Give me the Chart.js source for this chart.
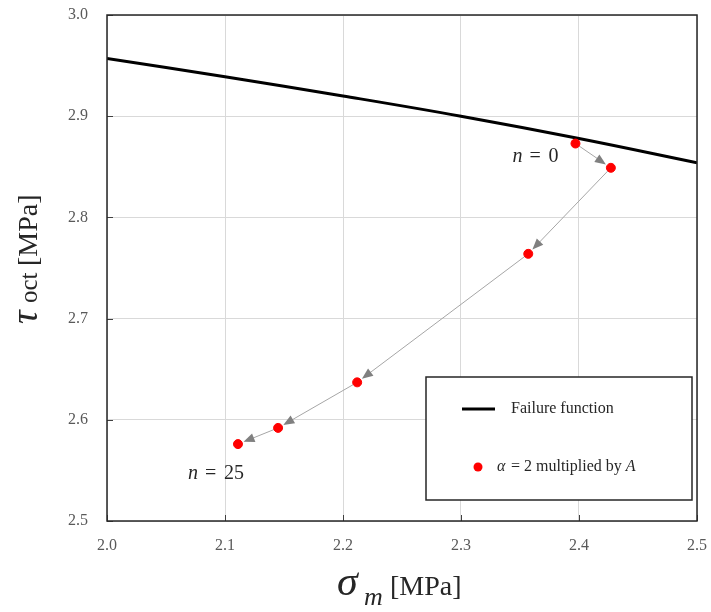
<!DOCTYPE html>
<html>
<head>
<meta charset="utf-8">
<script src="https://cdn.jsdelivr.net/npm/chart.js@4/dist/chart.umd.min.js"></script>
<style>
  html, body { margin: 0; padding: 0; background: #fff; }
  #wrap { width: 711px; height: 612px; }
</style>
</head>
<body>
<div id="wrap"><canvas id="c" width="711" height="612"></canvas></div>
<script>
// failure function
const failX = [2.0, 2.1, 2.2, 2.3, 2.4, 2.5];
const failY = [2.957, 2.939, 2.920, 2.900, 2.878, 2.854];

// stress path, n = 0 ... n = 25
const pathX = [2.397, 2.427, 2.357, 2.212, 2.145, 2.111];
const pathY = [2.873, 2.849, 2.764, 2.637, 2.592, 2.576];

const xTicks = [2.0, 2.1, 2.2, 2.3, 2.4, 2.5];
const yTicks = [2.5, 2.6, 2.7, 2.8, 2.9, 3.0];

const serif = "'Liberation Serif', 'Times New Roman', serif";

// n = ... note: italic n, then "=" and the number with math spacing
function note(ctx, x, y, num) {
    ctx.font = 'italic 20px ' + serif;
    ctx.fillText('n', x, y);
    ctx.font = '20px ' + serif;
    ctx.fillText('=', x + 17, y);
    ctx.fillText(num, x + 36, y);
}

// draws the frame, inward ticks, arrows, notes, legend and axis titles
const extras = {
    id: 'extras',
    beforeDatasetsDraw(chart) {
        const ctx = chart.ctx;
        const xs = chart.scales.x, ys = chart.scales.y;
        // arrows between consecutive points
        ctx.save();
        ctx.strokeStyle = '#a6a6a6';
        ctx.fillStyle = '#808080';
        ctx.lineWidth = 1;
        for (let i = 0; i < pathX.length - 1; i++) {
            const x0 = xs.getPixelForValue(pathX[i]), y0 = ys.getPixelForValue(pathY[i]);
            const x1 = xs.getPixelForValue(pathX[i + 1]), y1 = ys.getPixelForValue(pathY[i + 1]);
            const a = Math.atan2(y1 - y0, x1 - x0);
            const tx = x1 - Math.cos(a) * 6, ty = y1 - Math.sin(a) * 6;
            ctx.beginPath();
            ctx.moveTo(x0, y0);
            ctx.lineTo(tx - Math.cos(a) * 6, ty - Math.sin(a) * 6);
            ctx.stroke();
            ctx.beginPath();
            ctx.moveTo(tx, ty);
            ctx.lineTo(tx - Math.cos(a) * 11 + Math.sin(a) * 4.5, ty - Math.sin(a) * 11 - Math.cos(a) * 4.5);
            ctx.lineTo(tx - Math.cos(a) * 11 - Math.sin(a) * 4.5, ty - Math.sin(a) * 11 + Math.cos(a) * 4.5);
            ctx.closePath();
            ctx.fill();
        }
        ctx.restore();
    },
    afterDraw(chart) {
        const ctx = chart.ctx;
        const a = chart.chartArea;
        const xs = chart.scales.x, ys = chart.scales.y;
        ctx.save();
        // inward tick marks
        ctx.strokeStyle = '#404040';
        ctx.lineWidth = 1;
        xTicks.forEach(v => {
            const p = Math.round(xs.getPixelForValue(v)) + 0.5;
            ctx.beginPath(); ctx.moveTo(p, a.bottom); ctx.lineTo(p, a.bottom - 6); ctx.stroke();
        });
        yTicks.forEach(v => {
            const p = Math.round(ys.getPixelForValue(v)) + 0.5;
            ctx.beginPath(); ctx.moveTo(a.left, p); ctx.lineTo(a.left + 6, p); ctx.stroke();
        });
        // frame
        ctx.strokeStyle = '#262626';
        ctx.lineWidth = 1.5;
        ctx.strokeRect(a.left, a.top, a.right - a.left, a.bottom - a.top);

        // notes next to the first and last points
        ctx.fillStyle = '#262626';
        ctx.textBaseline = 'alphabetic';
        ctx.textAlign = 'left';
        const p0x = xs.getPixelForValue(pathX[0]), p0y = ys.getPixelForValue(pathY[0]);
        note(ctx, p0x - 63, p0y + 18, '0');
        const pnx = xs.getPixelForValue(pathX[pathX.length - 1]), pny = ys.getPixelForValue(pathY[pathY.length - 1]);
        note(ctx, pnx - 50, pny + 35, '25');

        // legend box
        const lx = 426, ly = 377, lw = 266, lh = 123;
        ctx.fillStyle = '#fff';
        ctx.fillRect(lx, ly, lw, lh);
        ctx.strokeStyle = '#262626';
        ctx.lineWidth = 1.5;
        ctx.strokeRect(lx, ly, lw, lh);
        ctx.strokeStyle = '#000';
        ctx.lineWidth = 3;
        ctx.beginPath(); ctx.moveTo(462, 409); ctx.lineTo(495, 409); ctx.stroke();
        ctx.fillStyle = '#262626';
        ctx.font = '16px ' + serif;
        ctx.textBaseline = 'middle';
        ctx.fillText(chart.data.datasets[0].label, 511, 409);
        ctx.fillStyle = '#ff0000';
        ctx.beginPath(); ctx.arc(478, 467, 4.5, 0, Math.PI * 2); ctx.fill();
        ctx.fillStyle = '#262626';
        ctx.font = 'italic 16px ' + serif;
        ctx.fillText('\u03b1', 497, 467);
        ctx.font = '16px ' + serif;
        ctx.fillText(' = 2 multiplied by ', 507, 467);
        const w = ctx.measureText(' = 2 multiplied by ').width;
        ctx.font = 'italic 16px ' + serif;
        ctx.fillText('A', 507 + w, 467);

        // x axis title
        ctx.textBaseline = 'alphabetic';
        ctx.fillStyle = '#262626';
        ctx.font = 'italic 42px ' + serif;
        ctx.fillText('\u03c3', 337, 595);
        ctx.font = 'italic 26px ' + serif;
        ctx.fillText('m', 364, 605);
        ctx.font = '28px ' + serif;
        ctx.fillText('[MPa]', 390, 595);

        // y axis title
        ctx.translate(37, 324);
        ctx.rotate(-Math.PI / 2);
        ctx.font = 'italic 38px ' + serif;
        ctx.fillText('\u03c4', 0, 0);
        ctx.font = '25px ' + serif;
        ctx.fillText('oct', 21, 0);
        ctx.font = '28px ' + serif;
        ctx.fillText('[MPa]', 58, 0);
        ctx.restore();
    }
};

new Chart(document.getElementById('c'), {
    type: 'scatter',
    data: {
        datasets: [
            {
                label: 'Failure function',
                data: failX.map((x, i) => ({ x: x, y: failY[i] })),
                showLine: true,
                borderColor: '#000',
                borderWidth: 3,
                pointRadius: 0,
                tension: 0.4,
                order: 2
            },
            {
                label: 'alpha = 2 multiplied by A',
                data: pathX.map((x, i) => ({ x: x, y: pathY[i] })),
                backgroundColor: '#ff0000',
                borderColor: '#ff0000',
                pointRadius: 4.5,
                order: 1
            }
        ]
    },
    options: {
        responsive: false,
        animation: false,
        layout: { padding: { top: 15, right: 14, left: 0, bottom: 0 } },
        plugins: { legend: { display: false }, tooltip: { enabled: false } },
        scales: {
            x: {
                type: 'linear',
                min: 2.0, max: 2.5,
                afterFit: s => { s.height = 91; s.paddingLeft = 0; s.paddingRight = 0; },
                afterBuildTicks: s => { s.ticks = xTicks.map(v => ({ value: v })); },
                grid: { color: '#d9d9d9', drawTicks: false },
                border: { display: false },
                ticks: {
                    padding: 15,
                    color: '#595959',
                    font: { family: serif, size: 16 },
                    callback: v => v.toFixed(1)
                }
            },
            y: {
                type: 'linear',
                min: 2.5, max: 3.0,
                afterFit: s => { s.width = 107; s.paddingTop = 0; s.paddingBottom = 0; },
                afterBuildTicks: s => { s.ticks = yTicks.map(v => ({ value: v })); },
                grid: { color: '#d9d9d9', drawTicks: false },
                border: { display: false },
                ticks: {
                    padding: 19,
                    color: '#595959',
                    font: { family: serif, size: 16 },
                    callback: v => v.toFixed(1)
                }
            }
        }
    },
    plugins: [extras]
});
</script>
</body>
</html>
